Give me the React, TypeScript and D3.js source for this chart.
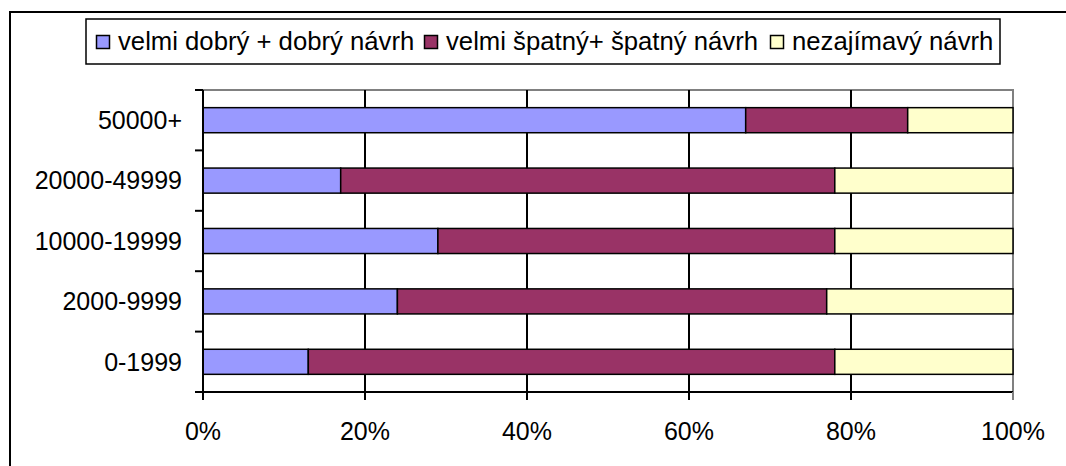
import React from "react";
import * as d3 from "d3";

const categories = ["50000+", "20000-49999", "10000-19999", "2000-9999", "0-1999"];
const seriesNames = ["velmi dobrý + dobrý návrh", "velmi špatný+ špatný návrh", "nezajímavý návrh"];
const goodValues = [67, 17, 29, 24, 13];
const badValues = [20, 61, 49, 53, 65];
const boringValues = [13, 22, 22, 23, 22];
const xTicks = [0, 20, 40, 60, 80, 100];
const colors = ["#9999FF", "#993366", "#FFFFCC"];

const W = 1066;
const H = 466;
const plot = { left: 203, right: 1013, top: 90, bottom: 392 };
const FONT = "Arial, 'Liberation Sans', sans-serif";

export default function App() {
  const x = d3.scaleLinear().domain([0, 100]).range([plot.left, plot.right]);
  const y = d3
    .scaleBand<string>()
    .domain(categories)
    .range([plot.top, plot.bottom])
    .paddingInner(0.585)
    .paddingOuter(0.2925);
  const bandStep = (plot.bottom - plot.top) / categories.length;

  const rows = categories.map((c, i) => ({
    cat: c,
    0: goodValues[i],
    1: badValues[i],
    2: boringValues[i],
  }));
  const stacked = d3.stack<any>().keys(["0", "1", "2"])(rows as any);

  // legend layout
  const legendFont = 25.7;
  const legendX = 86;
  const legendY = 19;
  const legendW = 914;
  const legendH = 45;
  const itemStarts = [96, 424, 770];

  return (
    <svg
      width={W}
      height={H}
      style={{ position: "absolute", left: 0, top: 0, background: "#fff" }}
      fontFamily={FONT}
    >
      <rect x={0} y={0} width={W} height={H} fill="#fff" />
      {/* outer chart border */}
      <rect x={10} y={12} width={W + 20} height={H + 20} fill="none" stroke="#000" strokeWidth={2} />

      {/* legend */}
      <rect x={legendX} y={legendY} width={legendW} height={legendH} fill="#fff" stroke="#000" strokeWidth={1.5} />
      {seriesNames.map((name, i) => (
        <g key={name}>
          <rect
            x={itemStarts[i] + 0.5}
            y={35.5}
            width={13}
            height={13}
            fill={colors[i]}
            stroke="#000"
            strokeWidth={1.5}
          />
          <text x={itemStarts[i] + 22} y={50} fontSize={legendFont} fill="#000">
            {name}
          </text>
        </g>
      ))}

      {/* plot background */}
      <rect
        x={plot.left}
        y={plot.top}
        width={plot.right - plot.left}
        height={plot.bottom - plot.top}
        fill="#fff"
      />
      {/* gray border top/right */}
      <path
        d={`M${plot.left},${plot.top}H${plot.right}V${plot.bottom}`}
        fill="none"
        stroke="#808080"
        strokeWidth={2}
      />
      {/* gridlines */}
      {xTicks.slice(1, -1).map((t) => (
        <line key={t} x1={x(t)} x2={x(t)} y1={plot.top} y2={plot.bottom} stroke="#000" strokeWidth={2} />
      ))}

      {/* bars */}
      {stacked.map((s, si) =>
        s.map((d: any, i: number) => (
          <rect
            key={`${si}-${i}`}
            x={x(d[0])}
            y={y(categories[i])!}
            width={x(d[1]) - x(d[0])}
            height={y.bandwidth()}
            fill={colors[si]}
            stroke="#000"
            strokeWidth={1.5}
          />
        ))
      )}

      {/* y axis */}
      <line x1={plot.left} x2={plot.left} y1={plot.top} y2={plot.bottom} stroke="#000" strokeWidth={2} />
      {d3.range(categories.length + 1).map((i) => (
        <line
          key={i}
          x1={plot.left - 8}
          x2={plot.left}
          y1={plot.top + i * bandStep}
          y2={plot.top + i * bandStep}
          stroke="#000"
          strokeWidth={2}
        />
      ))}
      {categories.map((c) => (
        <text
          key={c}
          x={182}
          y={y(c)! + y.bandwidth() / 2}
          dy="0.35em"
          textAnchor="end"
          fontSize={25}
          fill="#000"
        >
          {c}
        </text>
      ))}

      {/* x axis */}
      <line x1={plot.left} x2={plot.right} y1={plot.bottom} y2={plot.bottom} stroke="#000" strokeWidth={2} />
      {xTicks.map((t) => (
        <g key={t}>
          <line
            x1={x(t)}
            x2={x(t)}
            y1={plot.bottom}
            y2={plot.bottom + 8}
            stroke={t === 100 ? "#808080" : "#000"}
            strokeWidth={2}
          />
          <text x={x(t)} y={440} textAnchor="middle" fontSize={25} fill="#000">
            {t}%
          </text>
        </g>
      ))}
    </svg>
  );
}
